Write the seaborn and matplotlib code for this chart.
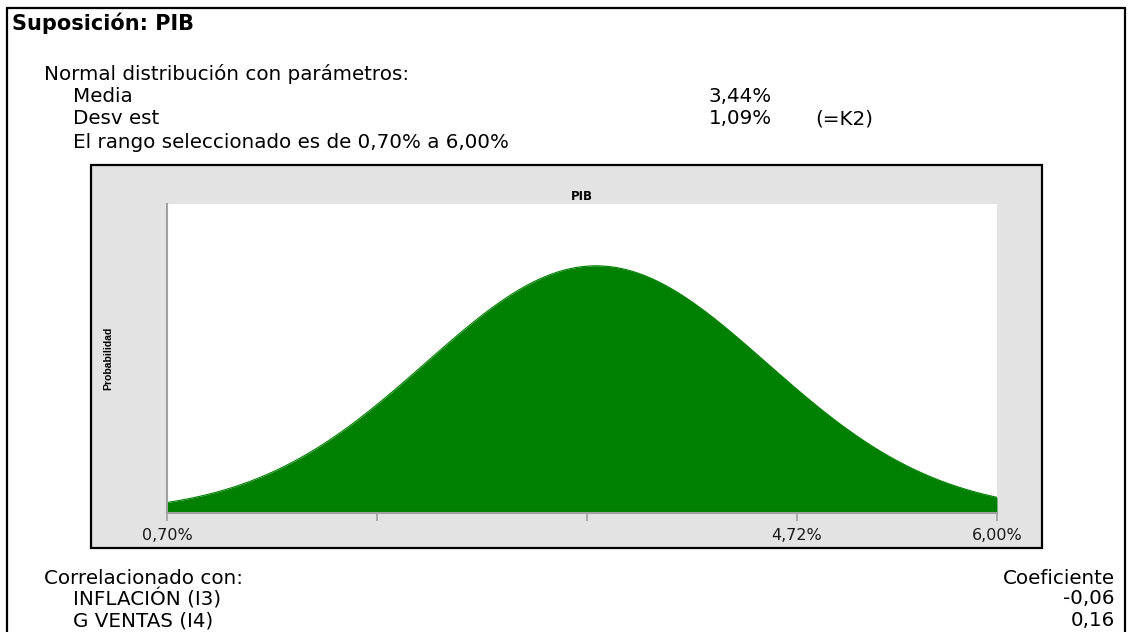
import numpy as np
import pandas as pd
import matplotlib
matplotlib.use("Agg")
import matplotlib.pyplot as plt
from matplotlib.patches import Rectangle
from matplotlib.lines import Line2D
import seaborn as sns

# Assumption parameters
supuesto = "PIB"
media = 3.44          # %
desv_est = 1.09       # %
rango = [0.70, 6.00]  # selected range, %
celda_desv = "(=K2)"

# Axis ticks (%); only some carry labels
ticks = [0.70, 2.04, 3.38, 4.72, 6.00]
tick_labels = ["0,70%", "", "", "4,72%", "6,00%"]

# Correlations
corr_nombres = ["INFLACIÓN (I3)", "G VENTAS (I4)"]
corr_coef = ["-0,06", "0,16"]

sns.set_theme(style="white")
plt.rcParams["font.family"] = ["DejaVu Sans"]
plt.rcParams["text.color"] = "black"
plt.rcParams["axes.labelcolor"] = "black"

W, H = 1131, 632
fig = plt.figure(figsize=(W / 100, H / 100), dpi=100)
fig.patch.set_facecolor("white")


def fx(px):
    return px / W


def fy(py):
    return 1 - py / H


def pct(v):
    return f"{v:.2f}%".replace(".", ",")


BODY = 14.3

# Outer report border
fig.add_artist(Line2D([fx(7), fx(7)], [fy(8), fy(640)], color="black", lw=1.6))
fig.add_artist(Line2D([fx(1125), fx(1125)], [fy(8), fy(640)], color="black", lw=1.6))
fig.add_artist(Line2D([fx(7), fx(1125)], [fy(8), fy(8)], color="black", lw=1.6))

# Header texts
fig.text(fx(12), fy(23), f"Suposición: {supuesto}", fontsize=15, fontweight="bold",
         va="center", ha="left")
fig.text(fx(44), fy(74), "Normal distribución con parámetros:", fontsize=BODY, va="center")
fig.text(fx(73), fy(96), "Media", fontsize=BODY, va="center")
fig.text(fx(73), fy(119), "Desv est", fontsize=BODY, va="center")
fig.text(fx(73), fy(143),
         f"El rango seleccionado es de {pct(rango[0])} a {pct(rango[1])}",
         fontsize=BODY, va="center")
fig.text(fx(709), fy(96), pct(media), fontsize=BODY, va="center")
fig.text(fx(709), fy(119), pct(desv_est), fontsize=BODY, va="center")
fig.text(fx(815), fy(119), celda_desv, fontsize=BODY, va="center")

# Chart frame
fig.add_artist(Rectangle((fx(91), fy(548)), fx(1042) - fx(91), fy(165) - fy(548),
                         facecolor="#e3e3e3", edgecolor="black", lw=1.6,
                         transform=fig.transFigure, zorder=0))

ax = fig.add_axes([fx(167), fy(513), fx(997) - fx(167), fy(204) - fy(513)])
ax.set_facecolor("white")

x = np.linspace(rango[0], rango[1], 400)
dens = np.exp(-0.5 * ((x - media) / desv_est) ** 2) / (desv_est * np.sqrt(2 * np.pi))
df = pd.DataFrame({"x": x, "p": dens})

sns.lineplot(data=df, x="x", y="p", ax=ax, color="#008000", lw=0.8)
ax.fill_between(df["x"], df["p"], 0, color="#008000", lw=0)

ax.set_xlim(rango[0], rango[1])
ax.set_ylim(0, dens.max() / 0.80)

for s in ["top", "right"]:
    ax.spines[s].set_visible(False)
for s in ["left", "bottom"]:
    ax.spines[s].set_visible(True)
    ax.spines[s].set_color("#a0a0a0")
    ax.spines[s].set_linewidth(1.5)

ax.set_yticks([])
ax.set_xticks(ticks)
ax.set_xticklabels(tick_labels, fontsize=11.5, color="#1a1a1a")
ax.tick_params(axis="x", direction="out", length=6, width=1.2, color="#a0a0a0",
               pad=5, bottom=True)
ax.set_xlabel("")
ax.set_ylabel("Probabilidad", fontsize=7.5, fontweight="bold",
              family=["Liberation Sans Narrow", "Liberation Sans"], labelpad=39)
ax.set_title(supuesto, fontsize=8.5, fontweight="bold", pad=3)

# Correlation block
fig.text(fx(44), fy(578), "Correlacionado con:", fontsize=BODY, va="center")
fig.text(fx(1115), fy(578), "Coeficiente", fontsize=BODY, va="center", ha="right")
for i, (n, c) in enumerate(zip(corr_nombres, corr_coef)):
    yy = 599 + i * 22
    fig.text(fx(73), fy(yy), n, fontsize=BODY, va="center")
    fig.text(fx(1115), fy(yy), c, fontsize=BODY, va="center", ha="right")

fig.savefig("out.png", dpi=100, facecolor="white")
